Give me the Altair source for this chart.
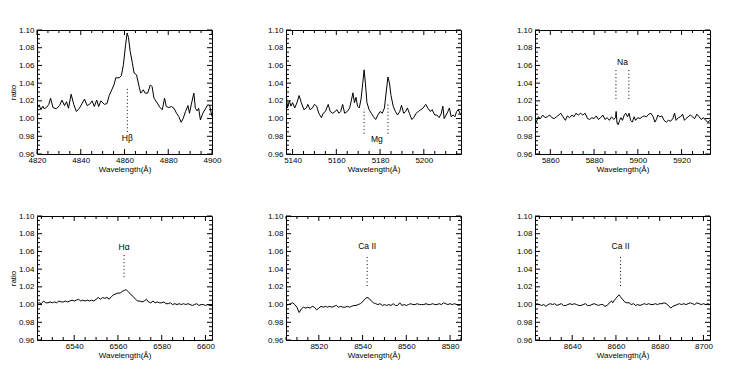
import altair as alt
import pandas as pd

FONT = "Liberation Sans"

# ---------------- data -----------------
P1_W = [4820.0, 4821.0, 4821.8, 4822.7, 4823.3, 4824.5, 4825.4, 4826.2, 4827.3, 4828.8, 4830.3, 4831.4,
        4832.6, 4833.5, 4834.4, 4835.6, 4836.8, 4838.0, 4839.4, 4840.6, 4841.7, 4842.9, 4844.0, 4845.2,
        4846.2, 4847.3, 4848.2, 4849.2, 4850.8, 4852.0, 4853.0, 4854.2, 4855.3, 4856.0, 4857.6, 4858.6,
        4859.5, 4860.5, 4861.2, 4861.8, 4862.6, 4863.6, 4864.4, 4865.5, 4866.7, 4867.4, 4868.6, 4869.4,
        4870.6, 4871.8, 4872.6, 4873.5, 4875.0, 4876.2, 4877.3, 4878.3, 4879.1, 4880.3, 4881.4, 4882.6,
        4883.8, 4884.8, 4885.9, 4886.8, 4887.9, 4889.0, 4889.7, 4890.5, 4891.7, 4892.4, 4893.2, 4893.9,
        4894.7, 4895.8, 4897.0, 4898.0, 4898.9, 4900.0]
P1_R = [1.012, 1.015, 1.010, 1.014, 1.011, 1.013, 1.016, 1.023, 1.0125, 1.011, 1.0147, 1.0208,
        1.0147, 1.019, 1.0117, 1.0275, 1.016, 1.008, 1.0117, 1.017, 1.022, 1.0147, 1.016, 1.020,
        1.0136, 1.021, 1.0136, 1.020, 1.016, 1.017, 1.026, 1.0325, 1.039, 1.046, 1.046, 1.0487,
        1.0608, 1.0834, 1.0966, 1.0917, 1.0758, 1.0626, 1.0513, 1.0494, 1.036, 1.0287, 1.0325, 1.0287,
        1.0287, 1.038, 1.036, 1.023, 1.0174, 1.0125, 1.010, 1.023, 1.0136, 1.0125, 1.0136, 1.0117,
        1.006, 1.0023, 0.9958, 1.000, 1.008, 1.0147, 1.006, 1.0155, 1.0287, 1.0117, 1.0087, 1.0117,
        0.9985, 1.006, 1.011, 1.0155, 1.015, 1.0023]

P2_W = [5137.0, 5137.7, 5138.5, 5139.3, 5140.0, 5141.0, 5142.0, 5143.0, 5144.0, 5145.2, 5146.3, 5147.0,
        5148.0, 5149.1, 5150.0, 5151.0, 5152.0, 5153.2, 5154.0, 5155.0, 5156.3, 5157.2, 5158.4, 5159.4,
        5160.3, 5161.2, 5162.0, 5162.9, 5163.8, 5165.0, 5166.1, 5167.0, 5167.6, 5168.3, 5169.0, 5169.7,
        5170.5, 5171.3, 5172.1, 5172.7, 5173.3, 5174.0, 5175.0, 5176.0, 5177.0, 5178.0, 5179.0, 5180.0,
        5181.0, 5182.0, 5182.8, 5183.6, 5184.3, 5185.0, 5186.0, 5187.0, 5188.0, 5189.0, 5189.8, 5190.8,
        5191.7, 5192.5, 5193.4, 5194.5, 5195.4, 5196.5, 5197.5, 5198.6, 5199.7, 5200.9, 5201.8, 5203.0,
        5203.8, 5205.0, 5206.0, 5207.0, 5208.0, 5208.7, 5209.3, 5210.2, 5211.0, 5211.7, 5212.5, 5213.4,
        5214.2, 5215.0, 5215.7, 5217.0]
P2_R = [1.030, 1.012, 1.020, 1.014, 1.018, 1.012, 1.018, 1.026, 1.018, 1.010, 1.012, 1.016,
        1.010, 1.012, 1.016, 1.014, 1.006, 1.001, 1.006, 1.008, 1.016, 1.008, 1.006, 1.008,
        1.010, 1.006, 1.008, 1.016, 1.006, 1.008, 1.012, 1.022, 1.029, 1.018, 1.024, 1.014,
        1.012, 1.022, 1.040, 1.055, 1.040, 1.018, 1.010, 1.006, 1.002, 0.999, 1.004, 1.008,
        1.006, 1.012, 1.030, 1.047, 1.040, 1.026, 1.014, 1.008, 1.004, 1.008, 1.015, 1.006,
        1.008, 1.012, 1.006, 0.999, 1.001, 1.006, 1.008, 1.010, 1.012, 1.016, 1.012, 1.008,
        1.010, 1.004, 1.004, 1.001, 1.006, 1.014, 1.000, 1.004, 1.008, 1.012, 1.002, 1.004,
        1.002, 1.008, 1.010, 1.004]

P3_W = [5853.0, 5853.6, 5854.5, 5855.5, 5856.5, 5857.6, 5858.6, 5859.7, 5860.7, 5861.8, 5862.8, 5863.9,
        5864.8, 5865.8, 5866.9, 5867.8, 5868.8, 5869.9, 5870.8, 5871.7, 5872.8, 5873.9, 5874.8, 5875.9,
        5877.0, 5878.0, 5879.0, 5880.0, 5881.0, 5882.0, 5883.0, 5884.0, 5885.0, 5886.0, 5887.0, 5888.0,
        5889.0, 5889.8, 5890.1, 5890.5, 5891.0, 5891.7, 5892.3, 5893.0, 5893.8, 5894.5, 5895.3, 5896.0,
        5896.7, 5897.5, 5898.3, 5899.0, 5900.0, 5901.0, 5902.0, 5903.0, 5904.0, 5905.0, 5906.0, 5907.0,
        5907.8, 5908.5, 5909.2, 5910.0, 5911.0, 5912.0, 5913.0, 5914.0, 5915.0, 5916.0, 5916.8, 5917.5,
        5918.5, 5919.5, 5920.5, 5921.3, 5922.0, 5923.0, 5924.0, 5925.0, 5926.0, 5927.0, 5928.0, 5929.0,
        5930.0, 5931.0, 5932.0, 5933.0]
P3_R = [1.000, 0.996, 1.002, 1.000, 1.004, 1.001, 1.002, 1.004, 1.001, 1.000, 1.002, 1.004,
        1.006, 1.002, 0.998, 1.003, 1.001, 1.004, 1.002, 1.006, 1.004, 1.006, 1.004, 1.006,
        1.000, 0.999, 1.001, 1.000, 1.003, 0.999, 1.001, 1.004, 0.999, 1.001, 0.998, 1.002,
        0.999, 1.001, 1.008, 0.995, 0.993, 0.998, 1.001, 0.998, 1.004, 1.006, 1.002, 1.006,
        0.998, 0.996, 1.002, 0.998, 1.001, 1.000, 1.002, 1.003, 1.002, 1.005, 1.006, 1.002,
        0.996, 0.999, 1.004, 1.002, 1.003, 0.998, 0.996, 0.998, 0.997, 1.000, 1.006, 0.998,
        1.001, 1.002, 1.005, 0.998, 1.000, 1.002, 1.004, 1.002, 1.000, 1.005, 1.002, 0.999,
        1.001, 0.998, 0.996, 0.998]

P4_W = [6523, 6524, 6525, 6526, 6527, 6528, 6529, 6530, 6531, 6532, 6533, 6534, 6535, 6536, 6537, 6538,
        6539, 6540, 6541, 6542, 6543, 6544, 6545, 6546, 6547, 6548, 6549, 6550, 6551, 6552, 6553, 6554,
        6555, 6556, 6557, 6558, 6559, 6560, 6561, 6562, 6563, 6563.7, 6564.5, 6565.3, 6566, 6567, 6568,
        6569, 6570, 6571, 6572, 6573, 6574, 6575, 6576, 6577, 6578, 6579, 6580, 6581, 6582, 6583, 6584,
        6585, 6586, 6587, 6588, 6589, 6590, 6591, 6592, 6593, 6594, 6595, 6596, 6597, 6598, 6599, 6600,
        6601, 6602, 6603]
P4_R = [1.001, 1.002, 1.001, 1.004, 1.002, 1.002, 1.003, 1.002, 1.003, 1.002, 1.004, 1.003, 1.003, 1.004,
        1.003, 1.004, 1.005, 1.004, 1.005, 1.006, 1.004, 1.005, 1.004, 1.005, 1.004, 1.005, 1.004, 1.006,
        1.008, 1.006, 1.008, 1.007, 1.008, 1.006, 1.009, 1.011, 1.012, 1.013, 1.013, 1.015, 1.016, 1.017,
        1.015, 1.013, 1.011, 1.009, 1.006, 1.004, 1.004, 1.003, 1.004, 1.006, 1.003, 1.002, 1.004, 1.002,
        1.003, 1.002, 1.002, 1.003, 1.001, 1.001, 1.002, 1.000, 1.001, 1.000, 1.001, 1.000, 1.001, 1.000,
        1.001, 1.000, 0.999, 1.000, 1.001, 0.999, 1.000, 1.000, 0.999, 1.000, 0.999, 0.999]

P5_W = [8505, 8506, 8507, 8508, 8509, 8510, 8511, 8512, 8513, 8514, 8515, 8516, 8517, 8518, 8519, 8520,
        8521, 8522, 8523, 8524, 8525, 8526, 8527, 8528, 8529, 8530, 8531, 8532, 8533, 8534, 8535, 8536,
        8537, 8538, 8539, 8540, 8541, 8542, 8543, 8544, 8545, 8546, 8547, 8548, 8549, 8550, 8551, 8552,
        8553, 8554, 8555, 8556, 8557, 8558, 8559, 8560, 8561, 8562, 8563, 8564, 8565, 8566, 8567, 8568,
        8569, 8570, 8571, 8572, 8573, 8574, 8575, 8576, 8577, 8578, 8579, 8580, 8581, 8582, 8583, 8584,
        8585]
P5_R = [0.999, 1.000, 1.001, 1.002, 1.000, 0.997, 0.991, 0.995, 0.997, 0.996, 0.997, 0.996, 0.998, 0.997,
        0.994, 0.996, 0.998, 0.997, 0.998, 0.997, 0.998, 0.997, 0.998, 0.999, 0.997, 0.998, 0.997, 0.997,
        0.998, 0.997, 0.998, 0.999, 0.999, 1.000, 1.001, 1.003, 1.006, 1.008, 1.007, 1.004, 1.002, 1.001,
        1.000, 1.001, 0.999, 1.000, 0.999, 1.000, 0.999, 1.001, 0.999, 0.999, 1.002, 0.999, 1.000, 0.999,
        1.000, 1.001, 1.000, 1.000, 1.001, 1.000, 1.000, 1.000, 1.001, 1.000, 1.000, 1.001, 1.000, 1.000,
        1.001, 1.000, 1.002, 1.001, 1.000, 1.001, 1.000, 1.001, 1.000, 0.999, 1.000]

P6_W = [8623, 8624, 8625, 8626, 8627, 8628, 8629, 8630, 8631, 8632, 8633, 8634, 8635, 8636, 8637, 8638,
        8639, 8640, 8641, 8642, 8643, 8644, 8645, 8646, 8647, 8648, 8649, 8650, 8651, 8652, 8653, 8654,
        8655, 8656, 8657, 8658, 8658.5, 8659, 8660, 8661, 8661.5, 8662, 8663, 8664, 8665, 8666, 8667, 8668,
        8669, 8670, 8671, 8672, 8673, 8674, 8675, 8676, 8677, 8678, 8679, 8680, 8681, 8682, 8683, 8684,
        8685, 8686, 8687, 8688, 8689, 8690, 8691, 8692, 8693, 8694, 8695, 8696, 8697, 8698, 8699, 8700,
        8701, 8702, 8703]
P6_R = [1.000, 1.001, 1.000, 0.999, 1.000, 0.998, 1.000, 1.001, 1.000, 1.001, 0.999, 1.000, 1.001, 0.999,
        0.999, 1.000, 1.001, 1.000, 1.001, 1.000, 0.999, 0.999, 1.000, 1.001, 0.999, 0.999, 1.000, 1.001,
        1.000, 0.999, 1.000, 1.000, 0.998, 0.999, 1.002, 1.004, 1.002, 1.004, 1.007, 1.010, 1.011, 1.009,
        1.006, 1.003, 1.002, 1.002, 1.000, 1.001, 0.999, 1.000, 0.999, 1.000, 1.001, 1.000, 1.001, 1.000,
        1.000, 1.001, 1.000, 1.001, 1.001, 1.002, 1.001, 0.999, 0.996, 0.998, 0.999, 1.000, 1.001, 1.000,
        1.001, 1.000, 1.001, 1.002, 1.001, 1.000, 1.002, 1.001, 1.000, 1.001, 1.000, 1.001, 1.000]

X_DOMAINS = [[4820, 4900], [5137, 5217], [5853, 5933], [6523, 6603], [8505, 8585], [8623, 8703]]
X_MAJOR = [[4820, 4840, 4860, 4880, 4900], [5140, 5160, 5180, 5200], [5860, 5880, 5900, 5920],
           [6540, 6560, 6580, 6600], [8520, 8540, 8560, 8580], [8640, 8660, 8680, 8700]]
Y_DOMAIN = [0.96, 1.10]
Y_MAJOR = [0.96, 0.98, 1.00, 1.02, 1.04, 1.06, 1.08, 1.10]
Y_MINOR = [0.965, 0.97, 0.975, 0.985, 0.99, 0.995, 1.005, 1.01, 1.015, 1.025, 1.03, 1.035,
           1.045, 1.05, 1.055, 1.065, 1.07, 1.075, 1.085, 1.09, 1.095]

# line identifications: wavelength, dotted line from y1 to y2
LINE_W = [[4861.3], [5172.7, 5183.6], [5890.0, 5895.9], [6562.8], [8542.1], [8662.1]]
LINE_Y1 = [[0.985], [0.983, 0.983], [1.022, 1.022], [1.031], [1.021], [1.021]]
LINE_Y2 = [[1.036], [1.011, 1.017], [1.056, 1.056], [1.058], [1.056], [1.056]]
LABEL_TEXT = ["Hβ", "Mg", "Na", "Hα", "Ca II", "Ca II"]
LABEL_W = [4861.3, 5178.5, 5893.0, 6562.8, 8542.1, 8662.1]
LABEL_Y = [0.978, 0.977, 1.064, 1.065, 1.066, 1.066]

SERIES = [(P1_W, P1_R), (P2_W, P2_R), (P3_W, P3_R), (P4_W, P4_R), (P5_W, P5_R), (P6_W, P6_R)]

W, H = 175, 124
LBL = 8
TTL = 8
MAJ, MIN = 5, 3


def minor_x(dom):
    return [v for v in range(int(dom[0]), int(dom[1]) + 1) if v % 5 == 0 and v % 20 != 0]


def panel(i):
    dom = X_DOMAINS[i]
    xs = alt.Scale(domain=dom, nice=False, zero=False)
    ys = alt.Scale(domain=Y_DOMAIN, nice=False, zero=False)
    df = pd.DataFrame({"w": SERIES[i][0], "r": SERIES[i][1]})

    main = alt.Chart(df).mark_line(color="black", strokeWidth=1, clip=True).encode(
        x=alt.X("w:Q", scale=xs, axis=alt.Axis(
            orient="bottom", values=X_MAJOR[i], format="d", labelFlush=False, ticks=False, tickSize=0,
            domain=False, grid=False, title="Wavelength(Å)", labelFontSize=LBL, titleFontSize=TTL,
            labelPadding=2, titlePadding=1)),
        y=alt.Y("r:Q", scale=ys, axis=alt.Axis(
            orient="left", values=Y_MAJOR, format=".2f", ticks=False, tickSize=0, domain=False,
            grid=False, title=("ratio" if i % 3 == 0 else None), labelFontSize=LBL, titleFontSize=TTL,
            labelPadding=3, titlePadding=1)),
    )

    layers = [main]
    xmaj = pd.DataFrame({"v": X_MAJOR[i]})
    xmin = pd.DataFrame({"v": minor_x(dom)})
    ymaj = pd.DataFrame({"v": Y_MAJOR})
    ymin = pd.DataFrame({"v": Y_MINOR})
    for tdf, ln in ((xmaj, MAJ), (xmin, MIN)):
        for y0, y1 in ((H, H - ln), (0, ln)):
            layers.append(alt.Chart(tdf).mark_rule(color="black", strokeWidth=1).encode(
                x=alt.X("v:Q", scale=xs, axis=None), y=alt.value(y0), y2=alt.value(y1)))
    for tdf, ln in ((ymaj, MAJ), (ymin, MIN)):
        for x0, x1 in ((0, ln), (W, W - ln)):
            layers.append(alt.Chart(tdf).mark_rule(color="black", strokeWidth=1).encode(
                y=alt.Y("v:Q", scale=ys, axis=None), x=alt.value(x0), x2=alt.value(x1)))

    ldf = pd.DataFrame({"w": LINE_W[i], "y1": LINE_Y1[i], "y2": LINE_Y2[i]})
    layers.append(alt.Chart(ldf).mark_rule(color="black", strokeWidth=1, strokeDash=[1, 2.5]).encode(
        x=alt.X("w:Q", scale=xs, axis=None),
        y=alt.Y("y1:Q", scale=ys, axis=None),
        y2="y2:Q",
    ))
    tdf = pd.DataFrame({"w": [LABEL_W[i]], "y": [LABEL_Y[i]], "t": [LABEL_TEXT[i]]})
    layers.append(alt.Chart(tdf).mark_text(fontSize=8.5, color="black", font=FONT).encode(
        x=alt.X("w:Q", scale=xs, axis=None),
        y=alt.Y("y:Q", scale=ys, axis=None),
        text="t:N",
    ))
    return alt.layer(*layers).resolve_axis(x="independent", y="independent").properties(width=W, height=H)


chart = alt.concat(*[panel(i) for i in range(6)], columns=3,
                   spacing={"row": 62, "column": 74}, bounds="flush").properties(
    padding={"left": 0, "top": 17, "right": 5, "bottom": 5}
).configure_view(stroke="black", strokeWidth=1).configure_axis(
    labelFont=FONT, titleFont=FONT, labelColor="black", titleColor="black",
    titleFontWeight="normal"
)

chart.save("out.html", embed_options={"renderer": "svg", "actions": False})
